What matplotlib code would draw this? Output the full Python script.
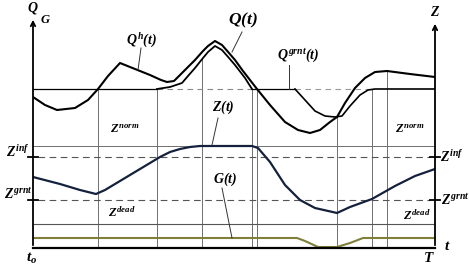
import matplotlib.pyplot as plt

# time axis runs 0..402, level axis runs 0..230
qh_t = [0, 12, 24, 42, 55, 65, 75, 87, 102, 117, 128, 134, 141, 147, 155, 162, 170, 175, 182,
        189, 196, 202, 210, 217, 224, 237, 252, 265, 277, 287, 297, 304, 312, 322, 332, 342, 354,
        377, 402]
qh_v = [151, 143, 138, 140, 148, 159, 172, 185, 179, 173, 168, 166, 167, 173, 181, 188, 197,
        202, 207, 203, 195, 188, 177, 168, 159, 143, 126, 118, 115, 118, 126, 131, 145, 160, 170,
        176, 177, 174, 171]

q_t = [124, 137, 149, 155, 162, 170, 175, 182, 189, 196, 202, 212, 219]
q_v = [159, 161, 165, 172, 180, 190, 196, 202, 198, 190, 183, 170, 159]

qgr_t = [262, 272, 282, 292, 302, 309, 317, 327, 335, 342, 402]
qgr_v = [159, 148, 137, 132, 131, 132, 142, 153, 158, 159, 159]
q_level = 159

z_t = [0, 27, 47, 63, 72, 97, 117, 127, 137, 147, 157, 167, 219, 225, 237, 252, 267, 282, 304,
       317, 339, 362, 382, 402]
z_v = [71, 64, 58, 54, 58, 73, 85, 91, 96, 99, 101, 102, 102, 100, 86, 63, 48, 40, 35, 41, 49,
       62, 72, 79]

g_t = [0, 264, 272, 285, 304, 317, 330, 402]
g_v = [10, 10, 7, 1, 1, 5, 10, 10]

z_norm = 102
z_inf = 91
z_grnt = 48
z_dead = 24

vline_t = [65, 124, 169, 219, 224, 304, 339, 354]
vline_top = [159, 159, 189, 159, 159, 131, 159, 177]


def main():
    plt.rcParams['mathtext.fontset'] = 'custom'
    plt.rcParams['mathtext.rm'] = 'Liberation Serif:italic:bold'
    plt.rcParams['mathtext.it'] = 'Liberation Serif:italic:bold'
    plt.rcParams['mathtext.bf'] = 'Liberation Serif:italic:bold'
    plt.rcParams['font.family'] = 'Liberation Serif'

    fig = plt.figure(figsize=(4.69, 2.69), dpi=100)
    ax = fig.add_axes([33 / 469, 21 / 269, 402 / 469, 230 / 269])
    ax.set_xlim(0, 402)
    ax.set_ylim(0, 230)
    ax.axis('off')

    grey = '#6f6f6f'
    for t, top in zip(vline_t, vline_top):
        ax.plot([t, t], [0, top], color=grey, lw=0.7)

    # horizontal levels
    ax.plot([0, 402], [z_norm, z_norm], color=grey, lw=0.7)
    ax.plot([0, 402], [z_dead, z_dead], color='#555555', lw=0.8)
    for lev in (z_inf, z_grnt):
        ax.plot([5, 397], [lev, lev], color='#555555', lw=0.8, dashes=(6, 4))
        ax.plot([-5, 5], [lev, lev], color='black', lw=1.3, clip_on=False)
        ax.plot([397, 407], [lev, lev], color='black', lw=1.3, clip_on=False)

    # guaranteed flow level
    ax.plot([0, q_t[0]], [q_level, q_level], color='black', lw=0.9)
    ax.plot([q_t[0], q_t[-1]], [q_level, q_level], color='#888888', lw=0.8, dashes=(5, 4))
    ax.plot([q_t[-1], qgr_t[0]], [q_level, q_level], color='black', lw=0.9)
    ax.plot([qgr_t[0], qgr_t[-2]], [q_level, q_level], color='#999999', lw=0.8, dashes=(5, 4))

    ax.plot(qgr_t, qgr_v, color='black', lw=1.2)
    ax.plot(qh_t, qh_v, color='black', lw=1.5)
    ax.plot(q_t, q_v, color='black', lw=1.3)
    ax.plot(z_t, z_v, color='#14213d', lw=1.6)
    ax.plot(g_t, g_v, color='#7f7f3a', lw=1.5)

    # axes
    ax.plot([0, 402], [0, 0], color='black', lw=1.6, clip_on=False)
    arrow = dict(arrowstyle='->', lw=1.3, color='black', mutation_scale=8)
    ax.annotate('', xy=(0, 231), xytext=(0, 0), arrowprops=arrow, annotation_clip=False)
    ax.annotate('', xy=(402, 227), xytext=(402, 0), arrowprops=arrow, annotation_clip=False)

    # labels and pointers
    fs = 10
    ax.plot([108, 105], [200, 178], color='#333333', lw=0.7)
    ax.text(108, 207, r'$Q^h(t)$', fontsize=fs, ha='center', va='center')
    ax.plot([209, 199], [216, 196], color='#333333', lw=0.7)
    ax.text(210, 228, r'$Q(t)$', fontsize=12.5, ha='center', va='center')
    ax.plot([256, 256], [183, 159], color='#333333', lw=0.7)
    ax.text(265, 193, r'$Q^{grnt}(t)$', fontsize=fs, ha='center', va='center')
    ax.plot([185, 179], [130, 103], color='#333333', lw=0.7)
    ax.text(190, 141, r'$Z(t)$', fontsize=fs, ha='center', va='center')
    ax.plot([189, 199], [60, 10], color='#333333', lw=0.7)
    ax.text(192, 69, r'$G(t)$', fontsize=fs, ha='center', va='center')

    ax.text(92, 118, r'$Z^{norm}$', fontsize=9, ha='center', va='center')
    ax.text(377, 118, r'$Z^{norm}$', fontsize=9, ha='center', va='center')
    ax.text(89, 35, r'$Z^{dead}$', fontsize=9, ha='center', va='center')
    ax.text(384, 32, r'$Z^{dead}$', fontsize=9, ha='center', va='center')
    ax.text(-15, 96, r'$Z^{inf}$', fontsize=fs, ha='center', va='center', clip_on=False)
    ax.text(-15, 54, r'$Z^{grnt}$', fontsize=fs, ha='center', va='center', clip_on=False)
    ax.text(419, 91, r'$Z^{inf}$', fontsize=fs, ha='center', va='center', clip_on=False)
    ax.text(422, 48, r'$Z^{grnt}$', fontsize=fs, ha='center', va='center', clip_on=False)

    ax.text(-1, -10, r'$t_o$', fontsize=11, ha='center', va='center', clip_on=False)
    ax.text(396, -10, r'$T$', fontsize=11, ha='center', va='center', clip_on=False)
    ax.text(414, 2, r'$t$', fontsize=11, ha='center', va='center', clip_on=False)
    ax.text(0, 240, r'$Q$', fontsize=10, ha='center', va='center', clip_on=False)
    ax.text(12, 228, r'$G$', fontsize=9, ha='center', va='center', clip_on=False)
    ax.text(402, 236, r'$Z$', fontsize=10, ha='center', va='center', clip_on=False)

    fig.savefig('out.png', dpi=100)


if __name__ == "__main__":
    main()
